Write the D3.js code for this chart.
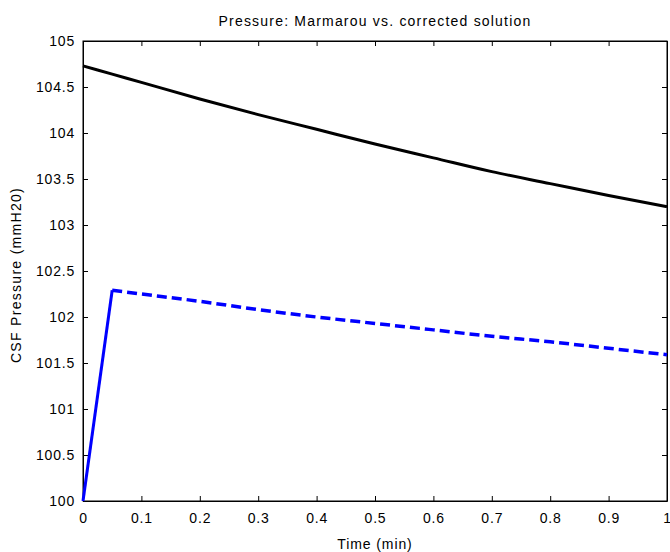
<!DOCTYPE html>
<html>
<head>
<meta charset="utf-8">
<script src="https://cdn.jsdelivr.net/npm/d3@7"></script>
<style>
	body { margin: 0; background: #fff; }
	text { font-family: 'Liberation Sans', Arial, sans-serif; fill: #000; }
</style>
</head>
<body>
<div id="chart"></div>
<script>
// data
var time = [0, 0.05, 0.1, 0.2, 0.3, 0.4, 0.5, 0.6, 0.7, 0.8, 0.9, 1.0];
var marmarou = [104.73, 104.64, 104.55, 104.37, 104.2, 104.04, 103.88, 103.73, 103.58, 103.45, 103.32, 103.2];
var corrected = [100.0, 102.29, 102.25, 102.17, 102.08, 102.0, 101.93, 101.86, 101.79, 101.73, 101.66, 101.59];
var x_ticks = [0, 0.1, 0.2, 0.3, 0.4, 0.5, 0.6, 0.7, 0.8, 0.9, 1];
var y_ticks = [100, 100.5, 101, 101.5, 102, 102.5, 103, 103.5, 104, 104.5, 105];

var chart_width = 670;
var chart_height = 552;
var plot_left = 83, plot_right = 667, plot_top = 41, plot_bottom = 501;

var svg = d3.select('#chart')
	.append('svg')
	.attr('width', chart_width)
	.attr('height', chart_height);

var x_scale = d3.scaleLinear().domain([0, 1]).range([plot_left, plot_right]);
var y_scale = d3.scaleLinear().domain([100, 105]).range([plot_bottom, plot_top]);

// axes, ticks pointing inwards like matlab
var tick_len = 5;
svg.append('g')
	.attr('transform', 'translate(0,' + plot_bottom + ')')
	.call(d3.axisBottom(x_scale).tickValues(x_ticks).tickSizeInner(-tick_len).tickSizeOuter(0).tickPadding(12).tickFormat(d3.format('')));
svg.append('g')
	.attr('transform', 'translate(0,' + plot_top + ')')
	.call(d3.axisTop(x_scale).tickValues(x_ticks).tickSizeInner(-tick_len).tickSizeOuter(0).tickFormat(''));
svg.append('g')
	.attr('transform', 'translate(' + plot_left + ',0)')
	.call(d3.axisLeft(y_scale).tickValues(y_ticks).tickSizeInner(-tick_len).tickSizeOuter(0).tickPadding(8).tickFormat(d3.format('')));
svg.append('g')
	.attr('transform', 'translate(' + plot_right + ',0)')
	.call(d3.axisRight(y_scale).tickValues(y_ticks).tickSizeInner(-tick_len).tickSizeOuter(0).tickFormat(''));

svg.selectAll('.tick text')
	.style('font-size', '14px')
	.style('letter-spacing', '0.8px')
	.style('font-family', "'Liberation Sans', Arial, sans-serif");
svg.selectAll('.domain, .tick line').attr('stroke', '#000');

svg.append('rect')
	.attr('x', plot_left).attr('y', plot_top)
	.attr('width', plot_right - plot_left).attr('height', plot_bottom - plot_top)
	.attr('fill', 'none').attr('stroke', '#000');

var line = d3.line()
	.x(function(d){ return x_scale(d[0]); })
	.y(function(d){ return y_scale(d[1]); })
	.curve(d3.curveMonotoneX);

var black_pts = time.map(function(t, i){ return [t, marmarou[i]]; });
var blue_pts = time.map(function(t, i){ return [t, corrected[i]]; });

svg.append('path')
	.attr('d', line(black_pts))
	.attr('fill', 'none')
	.attr('stroke', '#000')
	.attr('stroke-width', 3);

// steep rise looks solid in the reference, rest is dashed
svg.append('path')
	.attr('d', d3.line().x(function(d){ return x_scale(d[0]); }).y(function(d){ return y_scale(d[1]); })(blue_pts.slice(0, 2)))
	.attr('fill', 'none')
	.attr('stroke', '#0000ff')
	.attr('stroke-width', 3);

svg.append('path')
	.attr('d', line(blue_pts.slice(1)))
	.attr('fill', 'none')
	.attr('stroke', '#0000ff')
	.attr('stroke-width', 3.5)
	.attr('stroke-dasharray', '10,5');

// labels
svg.append('text')
	.attr('x', (plot_left + plot_right) / 2)
	.attr('y', 26)
	.attr('text-anchor', 'middle')
	.style('font-size', '14px')
	.style('letter-spacing', '1.2px')
	.text('Pressure: Marmarou vs. corrected solution');

svg.append('text')
	.attr('x', (plot_left + plot_right) / 2)
	.attr('y', 549)
	.attr('text-anchor', 'middle')
	.style('font-size', '14px')
	.style('letter-spacing', '0.9px')
	.text('Time (min)');

svg.append('text')
	.attr('transform', 'translate(21,275) rotate(-90)')
	.attr('text-anchor', 'middle')
	.style('font-size', '14px')
	.style('letter-spacing', '1.3px')
	.text('CSF Pressure (mmH20)');
</script>
</body>
</html>
